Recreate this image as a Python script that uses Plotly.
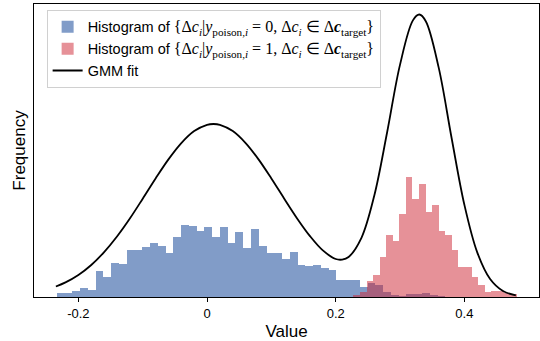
import plotly.graph_objects as go

# ---- data (heights in arbitrary frequency units) ----
blue_start = -0.2337
blue_width = 0.01208
blue_counts = [4, 4, 6, 9, 7, 26.5, 20, 34.5, 33, 47.5,
               47, 50.5, 54.5, 51, 44, 60.5, 72, 71, 66, 70.5,
               60, 70, 54.5, 65, 49.5, 68, 51, 44, 44.5, 38,
               45, 32.5, 31, 32.5, 29.5, 27, 17.5, 17.5, 17.5, 10.5,
               14.5, 12, 5.5, 2, 1.5, 3, 3.5, 4.5, 2, 1]

red_start = 0.2275
red_width = 0.0102
red_counts = [2, 5, 16, 22, 40, 62, 56, 83, 120, 98,
              113, 85, 92, 66, 62, 47, 30, 30, 20, 12.5,
              5, 6.5, 6, 4, 3]

gmm_x = [-0.235, -0.22, -0.20, -0.18, -0.16, -0.14, -0.12, -0.10, -0.08, -0.06,
         -0.04, -0.02, 0.0, 0.01, 0.02, 0.04, 0.06, 0.08, 0.10, 0.12,
         0.14, 0.16, 0.18, 0.20, 0.21, 0.22, 0.24, 0.26, 0.28, 0.30,
         0.32, 0.33, 0.34, 0.36, 0.38, 0.40, 0.42, 0.44, 0.46, 0.48]
gmm_y = [10.5, 14.6, 22.0, 32.0, 44.9, 60.5, 78.5, 98.3, 118.5, 137.6,
         153.9, 165.9, 172.2, 173.0, 172.2, 165.9, 153.9, 137.6, 118.5, 98.3,
         78.6, 60.9, 46.6, 38.0, 37.4, 40.0, 59.2, 101.5, 165.0, 232.4,
         276.6, 282.5, 275.8, 229.6, 159.5, 92.2, 44.6, 18.0, 6.0, 1.7]

x_ticks = [-0.2, 0, 0.2, 0.4]
x_tick_labels = ["-0.2", "0", "0.2", "0.4"]

blue_centers = [blue_start + blue_width * (i + 0.5) for i in range(len(blue_counts))]
red_centers = [red_start + red_width * (i + 0.5) for i in range(len(red_counts))]

serif = "Liberation Serif"
math_open = '<span style="font-family:%s;font-size:16px">' % serif
label0 = ('Histogram of ' + math_open + '{Δ<i>c</i><sub><i>i</i></sub>|<i>y</i>'
          '<sub>poison,<i>i</i></sub> = 0, Δ<i>c</i><sub><i>i</i></sub> ∈ Δ<b><i>c</i></b>'
          '<sub>target</sub>}</span>')
label1 = ('Histogram of ' + math_open + '{Δ<i>c</i><sub><i>i</i></sub>|<i>y</i>'
          '<sub>poison,<i>i</i></sub> = 1, Δ<i>c</i><sub><i>i</i></sub> ∈ Δ<b><i>c</i></b>'
          '<sub>target</sub>}</span>')

fig = go.Figure()
fig.add_trace(go.Bar(x=blue_centers, y=blue_counts, width=blue_width,
                     marker=dict(color="rgba(76,114,176,0.7)", line=dict(width=0)),
                     name=label0))
fig.add_trace(go.Bar(x=red_centers, y=red_counts, width=red_width,
                     marker=dict(color="rgba(205,35,50,0.5)", line=dict(width=0)),
                     name=label1))
fig.add_trace(go.Scatter(x=gmm_x, y=gmm_y, mode="lines",
                         line=dict(color="black", width=1.8, shape="spline"),
                         name="GMM fit"))

fig.update_layout(
    width=540, height=341,
    margin=dict(l=34, r=1, t=4, b=44),
    plot_bgcolor="white", paper_bgcolor="white",
    barmode="overlay", bargap=0,
    font=dict(family="Liberation Sans", size=13, color="black"),
    showlegend=True,
    legend=dict(x=0.025, y=0.98, xanchor="left", yanchor="top",
                bgcolor="white", bordercolor="#d0d0d0", borderwidth=1,
                font=dict(size=14.5), tracegroupgap=0, itemwidth=30),
    xaxis=dict(range=[-0.269, 0.516], tickvals=x_ticks, ticktext=x_tick_labels,
               ticks="outside", ticklen=4, tickcolor="black",
               showline=True, linecolor="black", linewidth=1, mirror=True,
               showgrid=False, zeroline=False,
               title=dict(text="Value", font=dict(size=17), standoff=6),
               tickfont=dict(size=13)),
    yaxis=dict(range=[0, 293], showticklabels=False, ticks="",
               showline=True, linecolor="black", linewidth=1, mirror=True,
               showgrid=False, zeroline=False,
               title=dict(text="Frequency", font=dict(size=17), standoff=3)),
)

fig.write_html("out.html")
